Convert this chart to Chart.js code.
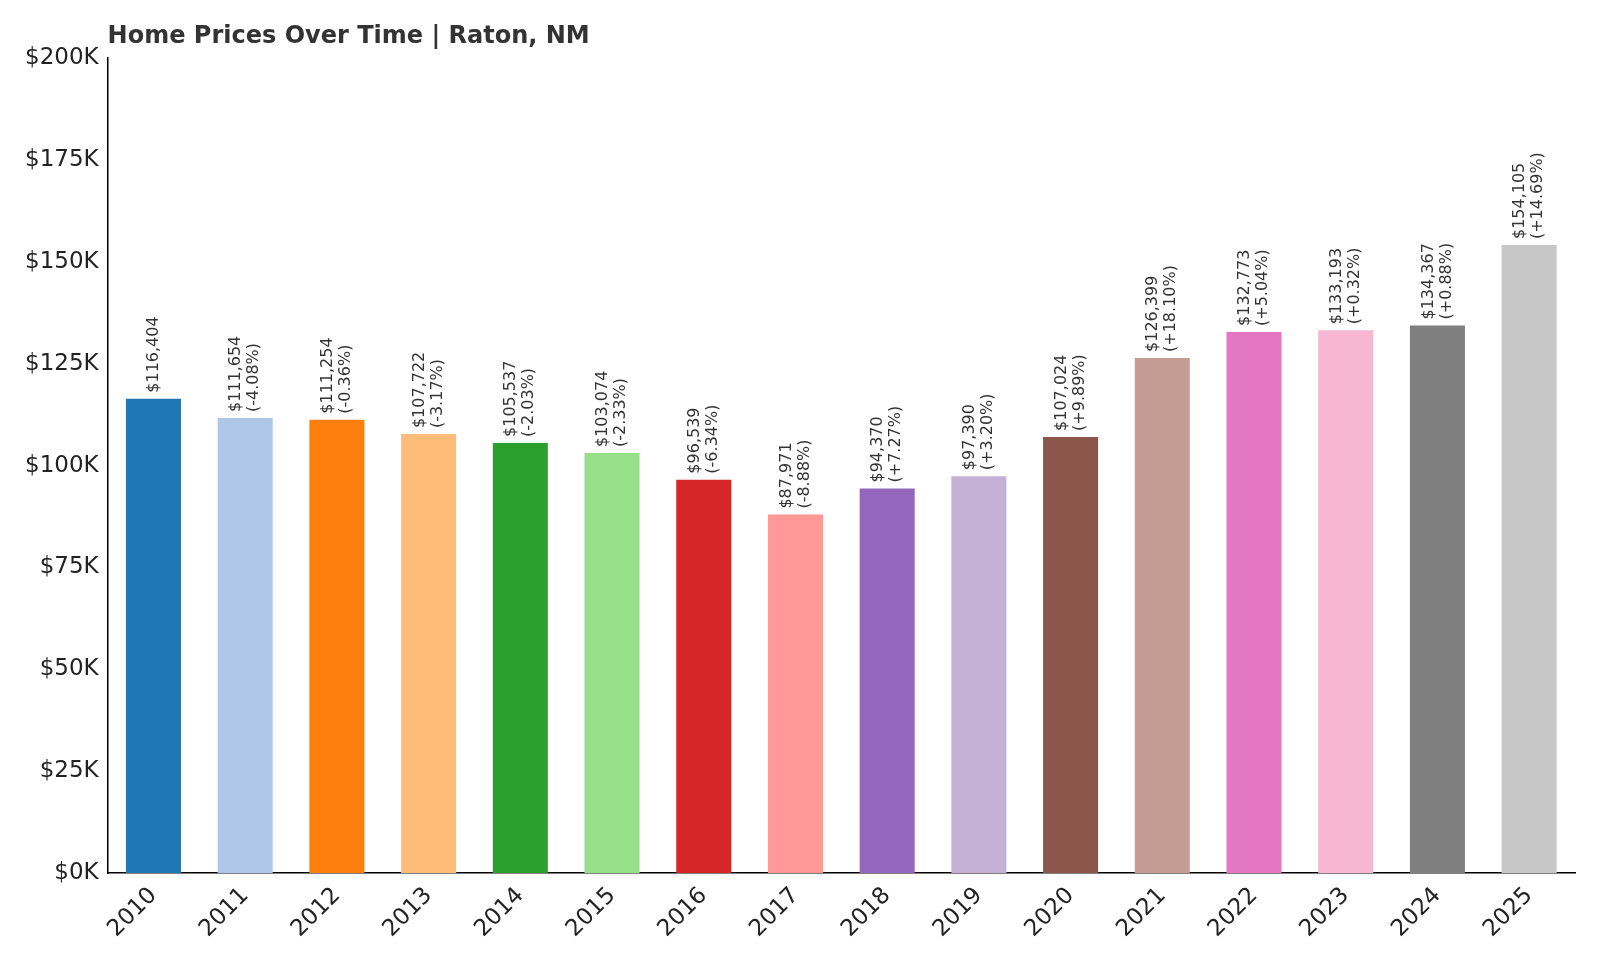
<!DOCTYPE html>
<html>
<head>
<meta charset="utf-8">
<script src="https://cdn.jsdelivr.net/npm/chart.js@4"></script>
<style>
  body { margin: 0; background: #fff; }
  #wrap { width: 1600px; height: 960px; }
</style>
</head>
<body>
<div id="wrap"><canvas id="priceChart" width="1600" height="960"></canvas></div>
<script>
const years = ['2010','2011','2012','2013','2014','2015','2016','2017','2018','2019','2020','2021','2022','2023','2024','2025'];
const prices = [116404, 111654, 111254, 107722, 105537, 103074, 96539, 87971, 94370, 97390, 107024, 126399, 132773, 133193, 134367, 154105];
const changes = ['', '-4.08%', '-0.36%', '-3.17%', '-2.03%', '-2.33%', '-6.34%', '-8.88%', '+7.27%', '+3.20%', '+9.89%', '+18.10%', '+5.04%', '+0.32%', '+0.88%', '+14.69%'];
const barColors = ['#1f77b4','#aec7e8','#ff7f0e','#ffbb78','#2ca02c','#98df8a','#d62728','#ff9896','#9467bd','#c5b0d5','#8c564b','#c49c94','#e377c2','#f7b6d2','#7f7f7f','#c7c7c7'];

const fontFam = '"DejaVu Sans", sans-serif';

// value labels above bars + title
const labelPlugin = {
    id: 'labels',
    afterDatasetsDraw(chart) {
        const ctx = chart.ctx;
        const meta = chart.getDatasetMeta(0);
        ctx.save();
        ctx.fillStyle = '#333';
        ctx.font = '16px ' + fontFam;
        ctx.textBaseline = 'middle';
        ctx.textAlign = 'left';
        meta.data.forEach((bar, i) => {
            ctx.save();
            ctx.translate(bar.x, bar.y - 6);
            ctx.rotate(-Math.PI / 2);
            const val = '$' + prices[i].toLocaleString('en-US');
            if (changes[i]) {
                ctx.fillText(val, 0, -9);
                ctx.fillText('(' + changes[i] + ')', 0, 9);
            } else {
                ctx.fillText(val, 0, 0);
            }
            ctx.restore();
        });
        ctx.font = 'bold 24px ' + fontFam;
        ctx.textBaseline = 'alphabetic';
        ctx.fillText('Home Prices Over Time | Raton, NM', chart.chartArea.left, 43);
        ctx.restore();
    }
};

new Chart(document.getElementById('priceChart').getContext('2d'), {
    type: 'bar',
    data: {
        labels: years,
        datasets: [{
            data: prices,
            backgroundColor: barColors,
            barPercentage: 0.6,
            categoryPercentage: 1.0
        }]
    },
    options: {
        responsive: false,
        animation: false,
        layout: { padding: { top: 58, right: 25, left: 22, bottom: 14 } },
        plugins: { legend: { display: false }, tooltip: { enabled: false } },
        scales: {
            x: {
                grid: { display: false, drawTicks: true, tickLength: 6, tickColor: '#000' },
                border: { color: '#000', width: 1.5 },
                ticks: { color: '#222', font: { size: 23, family: fontFam }, maxRotation: 45, minRotation: 45 }
            },
            y: {
                min: 0,
                max: 200000,
                grid: { display: false, drawTicks: true, tickLength: 6, tickColor: '#000' },
                border: { color: '#000', width: 1.5 },
                ticks: {
                    stepSize: 25000,
                    color: '#222',
                    font: { size: 23, family: fontFam },
                    callback: v => '$' + (v / 1000) + 'K'
                }
            }
        }
    },
    plugins: [labelPlugin]
});
</script>
</body>
</html>
